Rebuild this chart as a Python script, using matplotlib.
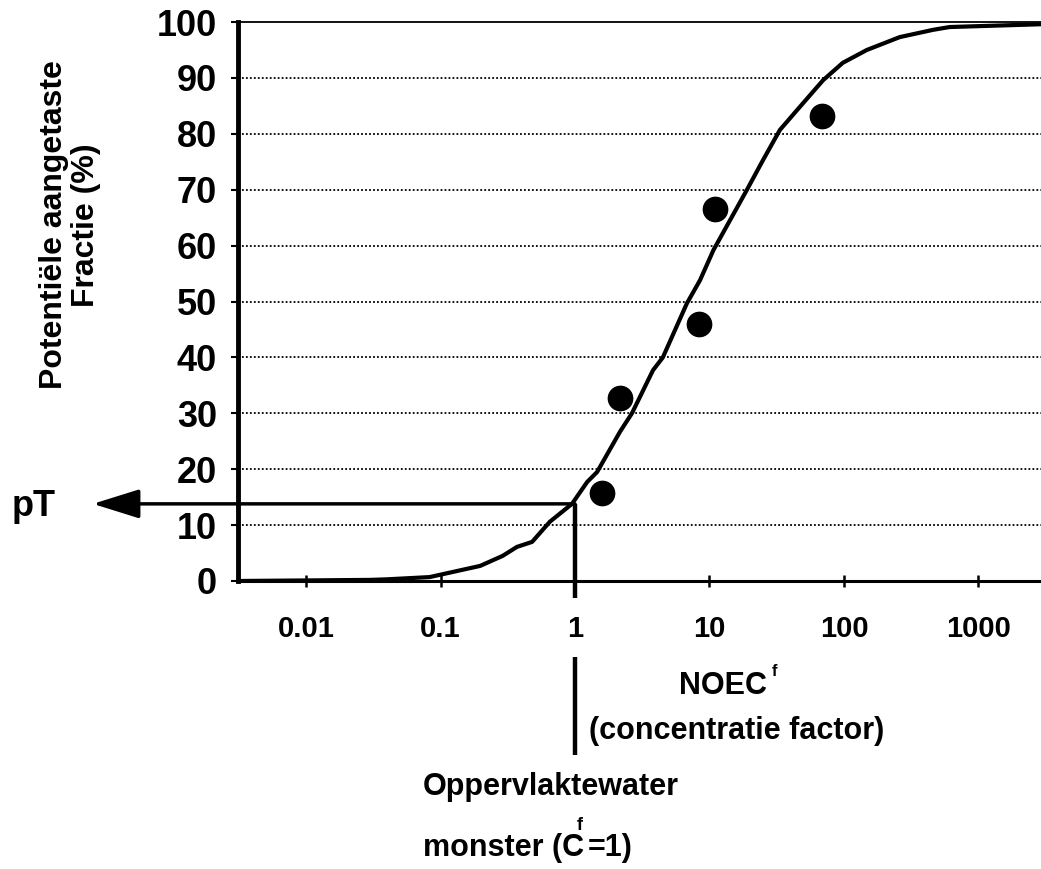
import numpy as np
import matplotlib.pyplot as plt

plt.rcParams['font.family'] = ['Liberation Sans', 'DejaVu Sans']
plt.rcParams['font.weight'] = 'bold'

# fitted SSD curve
curve_x = [0.0031, 0.01, 0.03, 0.04, 0.083, 0.197, 0.29, 0.37, 0.48, 0.65, 0.95,
           1.23, 1.46, 2.16, 2.65, 3.8, 4.5, 6.8, 8.5, 10.7, 19, 25, 33.4, 45,
           70, 98, 148, 260, 460, 610, 2920]
curve_y = [0, 0.1, 0.2, 0.3, 0.7, 2.7, 4.5, 6.1, 7.0, 10.6, 13.8,
           17.7, 19.5, 26.7, 30, 37.7, 40, 49.7, 53.8, 59.2, 70, 75.3, 80.7, 84.3,
           89.6, 92.7, 95, 97.3, 98.6, 99.1, 99.6]

# NOEC data points
noec_x = [1.59, 2.16, 8.4, 11.0, 69.0]
noec_y = [15.7, 32.7, 46.0, 66.5, 83.2]

x_ticks = [0.01, 0.1, 1, 10, 100, 1000]
x_ticklabels = ['0.01', '0.1', '1', '10', '100', '1000']
y_ticks = [0, 10, 20, 30, 40, 50, 60, 70, 80, 90, 100]

sample_cf = 1
pT = 13.8

W, H = 1041, 869
fig = plt.figure(figsize=(W / 100, H / 100), dpi=100)
ax = fig.add_axes([238 / W, 1 - 581 / H, (W - 238) / W, (581 - 22) / H])

ax.set_xscale('log')
ax.set_xlim(0.00312, 2917)
ax.set_ylim(0, 100)

for yv in y_ticks[1:-1]:
    ax.axhline(yv, color='black', lw=1.3, ls=(0, (1, 1.2)), zorder=1)

ax.plot(curve_x, curve_y, color='black', lw=3, zorder=3, solid_capstyle='butt')
ax.plot(noec_x, noec_y, 'o', color='black', ms=17.5, zorder=4)

# pT arrow and sample line
ax.annotate('', xy=(0.00026, pT), xytext=(sample_cf, pT),
            xycoords='data', textcoords='data', annotation_clip=False,
            arrowprops=dict(arrowstyle='-|>,head_length=1.6,head_width=0.5',
                            mutation_scale=18, lw=2.5, color='black',
                            shrinkA=0, shrinkB=0))
ax.plot([sample_cf, sample_cf], [pT, -3.0], color='black', lw=3.2,
        clip_on=False, solid_capstyle='butt', zorder=5)
ax.plot([sample_cf, sample_cf], [-13.6, -31.1], color='black', lw=3.2,
        clip_on=False, solid_capstyle='butt', zorder=5)

ax.set_xticks(x_ticks)
ax.set_xticklabels(x_ticklabels)
ax.minorticks_off()
ax.set_yticks(y_ticks)
ax.tick_params(axis='x', direction='inout', length=9, width=1.8, pad=20, labelsize=21)
ax.tick_params(axis='y', direction='out', length=5, width=1.5, pad=10, labelsize=26)

ax.spines['right'].set_visible(False)
ax.spines['left'].set_linewidth(3.5)
ax.spines['bottom'].set_linewidth(2.2)
ax.spines['top'].set_linewidth(1.3)

def px(x, y):
    return x / W, 1 - y / H

fig.text(*px(70, 225), 'Potentiële aangetaste\nFractie (%)', rotation=90,
         ha='center', va='center', multialignment='center', fontsize=23,
         fontweight='bold', linespacing=1.1)
fig.text(*px(12, 507), 'pT', ha='left', va='center', fontsize=26, fontweight='bold')

fig.text(*px(723, 686), 'NOEC', ha='center', va='center', fontsize=22, fontweight='bold')
fig.text(*px(772, 672), 'f', ha='left', va='center', fontsize=12, fontweight='bold')
fig.text(*px(737, 731), '(concentratie factor)', ha='center', va='center',
         fontsize=22, fontweight='bold')

fig.text(*px(423, 787), 'Oppervlaktewater', ha='left', va='center', fontsize=22,
         fontweight='bold')
fig.text(*px(423, 848), 'monster (C', ha='left', va='center', fontsize=22,
         fontweight='bold')
fig.text(*px(577, 825), 'f', ha='left', va='center', fontsize=13, fontweight='bold')
fig.text(*px(588, 848), '=1)', ha='left', va='center', fontsize=22, fontweight='bold')

fig.savefig('out.png', dpi=100)
